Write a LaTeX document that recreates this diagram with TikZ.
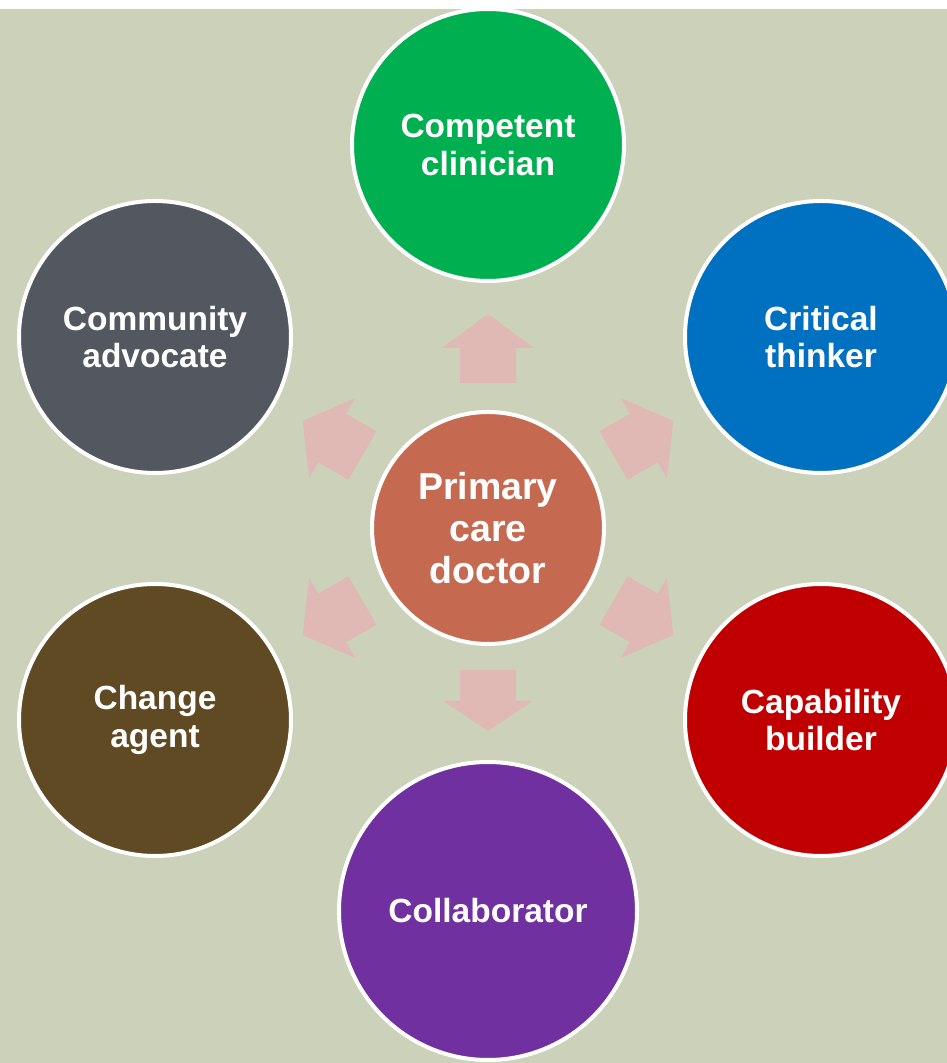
\documentclass[tikz,border=0pt]{standalone}
\usepackage{fontspec}
\newfontfamily\lab{Liberation Sans}
\definecolor{bgc}{RGB}{204,209,186}
\definecolor{cgreen}{RGB}{0,176,80}
\definecolor{cblue}{RGB}{0,112,192}
\definecolor{cred}{RGB}{192,0,0}
\definecolor{cpurple}{RGB}{112,48,160}
\definecolor{cbrown}{RGB}{96,74,35}
\definecolor{cgray}{RGB}{82,87,96}
\definecolor{ccenter}{RGB}{197,106,80}
\definecolor{carrow}{RGB}{224,185,180}
\tikzset{
  circ/.style={circle, draw=white, line width=4pt, inner sep=0pt, minimum size=272pt,
    text=white, align=center, font={\lab\bfseries\fontsize{33.5}{37.5}\selectfont}},
  bigcirc/.style={circ, minimum size=298pt},
  midcirc/.style={circ, minimum size=232pt, font={\lab\bfseries\fontsize{37.5}{42}\selectfont}},
  arrowfill/.style={fill=carrow, draw=none}
}
\begin{document}
\begin{tikzpicture}[x=1pt,y=1pt]
\useasboundingbox (0,0) rectangle (947,1063);
\fill[white] (0,0) rectangle (947,1063);
\fill[bgc] (0,0) rectangle (947,1054);
\clip (0,0) rectangle (947,1054);
% center
\node[midcirc, fill=ccenter] (c) at (488,535) {Primary\\care\\doctor};
% arrows
\foreach \a in {90,30,-30,150,210} {
  \fill[arrowfill, shift={(c.center)}, rotate=\a]
    (145,-28) -- (180,-28) -- (180,-46) -- (214,0) -- (180,46) -- (180,28) -- (145,28) -- cycle;
}
\fill[arrowfill, shift={(c.center)}, rotate=270]
  (142,-28) -- (173,-28) -- (173,-45) -- (203,0) -- (173,45) -- (173,28) -- (142,28) -- cycle;
% outer circles
\node[circ, fill=cgreen] (cc) at (488,918) {Competent\\clinician};
\node[circ, fill=cgray] (ca) at (155,726) {Community\\advocate};
\node[circ, fill=cblue] (ct) at (821,726) {Critical\\thinker};
\node[circ, fill=cbrown] (ch) at (155,343) {Change\\agent};
\node[circ, fill=cred] (cb) at (821,343) {Capability\\builder};
\node[bigcirc, fill=cpurple] (co) at (488,152) {Collaborator};
\end{tikzpicture}
\end{document}
